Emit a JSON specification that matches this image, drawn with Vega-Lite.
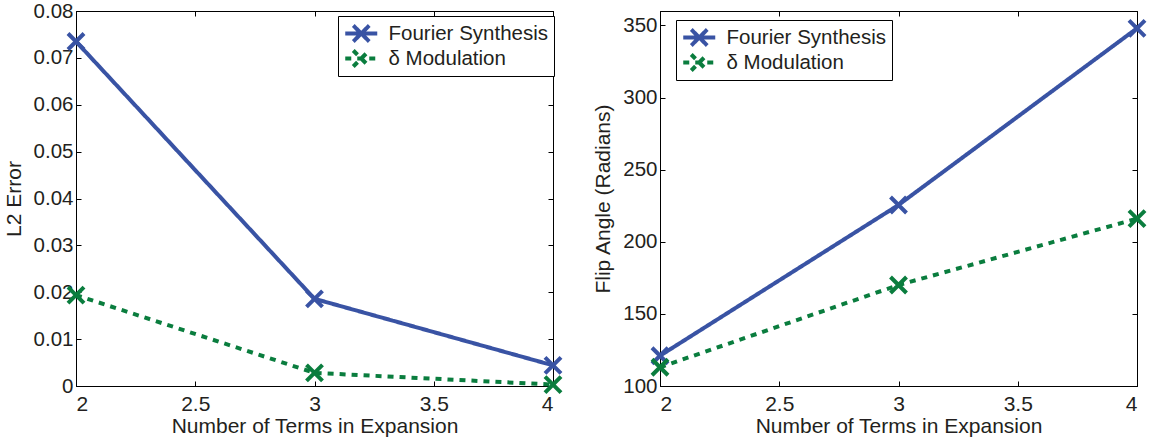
{
  "$schema": "https://vega.github.io/schema/vega-lite/v6.json",
  "padding": {"left": 2, "top": 0, "right": 0, "bottom": 0},
  "background": "white",
  "datasets": {
    "l2": [
      {"terms": 2, "value": 0.0735, "series": "Fourier Synthesis"},
      {"terms": 3, "value": 0.0186, "series": "Fourier Synthesis"},
      {"terms": 4, "value": 0.0044, "series": "Fourier Synthesis"},
      {"terms": 2, "value": 0.0194, "series": "δ Modulation"},
      {"terms": 3, "value": 0.0028, "series": "δ Modulation"},
      {"terms": 4, "value": 0.0003, "series": "δ Modulation"}
    ],
    "flip": [
      {"terms": 2, "value": 121, "series": "Fourier Synthesis"},
      {"terms": 3, "value": 225.5, "series": "Fourier Synthesis"},
      {"terms": 4, "value": 348, "series": "Fourier Synthesis"},
      {"terms": 2, "value": 113, "series": "δ Modulation"},
      {"terms": 3, "value": 170, "series": "δ Modulation"},
      {"terms": 4, "value": 216, "series": "δ Modulation"}
    ]
  },
  "config": {
    "font": "Liberation Sans",
    "view": {"stroke": "#000", "strokeWidth": 1},
    "axis": {
      "labelFont": "Liberation Sans", "labelFontSize": 21, "labelColor": "#231f20",
      "titleFont": "Liberation Sans", "titleFontSize": 21, "titleFontWeight": "normal", "titleColor": "#231f20",
      "domainColor": "#000", "domainWidth": 1, "tickColor": "#000", "tickWidth": 1, "tickSize": -5, "grid": false
    },
    "axisY": {"labelFontSize": 20.5},
    "legend": {
      "orient": "none",
      "title": null,
      "labelFont": "Liberation Sans", "labelFontSize": 20.5, "labelColor": "#231f20", "labelLimit": 0,
      "strokeColor": "#000", "fillColor": "white", "padding": 5, "rowPadding": 0, "clipHeight": 25,
      "symbolType": "M-2,0H2M-1,-1L1,1M-1,1L1,-1",
      "symbolSize": 256, "symbolStrokeWidth": 4, "symbolOffset": 8, "labelOffset": 17
    }
  },
  "spacing": 22,
  "resolve": {"scale": {"color": "independent", "strokeDash": "independent"}},
  "hconcat": [
    {
      "width": 477, "height": 375,
      "data": {"name": "l2"},
      "layer": [
        {
          "mark": {"type": "line", "strokeWidth": 4},
          "encoding": {
            "x": {"field": "terms", "type": "quantitative", "scale": {"domain": [2, 4]},
              "axis": {"values": [2, 2.5, 3, 3.5, 4], "format": "~g", "title": "Number of Terms in Expansion", "labelPadding": 12, "titlePadding": 1}},
            "y": {"field": "value", "type": "quantitative", "scale": {"domain": [0, 0.08]},
              "axis": {"values": [0, 0.01, 0.02, 0.03, 0.04, 0.05, 0.06, 0.07, 0.08], "format": ".2~f", "title": "L2 Error", "labelPadding": 8, "titlePadding": 9}},
            "color": {"field": "series", "type": "nominal",
              "scale": {"domain": ["Fourier Synthesis", "δ Modulation"], "range": ["#3953a4", "#0a7d3e"]},
              "legend": {"legendX": 262, "legendY": 5}},
            "strokeDash": {"field": "series", "type": "nominal",
              "scale": {"domain": ["Fourier Synthesis", "δ Modulation"], "range": [[1, 0], [6, 6]]},
              "legend": {"legendX": 262, "legendY": 5}}
          }
        },
        {
          "mark": {"type": "point", "shape": "M-1,-1L1,1M-1,1L1,-1", "filled": false, "size": 256, "strokeWidth": 4, "opacity": 1},
          "encoding": {
            "x": {"field": "terms", "type": "quantitative", "axis": {"orient": "top", "values": [2, 2.5, 3, 3.5, 4], "labels": false, "title": null}},
            "y": {"field": "value", "type": "quantitative", "axis": {"orient": "right", "values": [0, 0.01, 0.02, 0.03, 0.04, 0.05, 0.06, 0.07, 0.08], "labels": false, "title": null}},
            "color": {"field": "series", "type": "nominal",
              "scale": {"domain": ["Fourier Synthesis", "δ Modulation"], "range": ["#3953a4", "#0a7d3e"]},
              "legend": {"legendX": 262, "legendY": 5}}
          }
        }
      ],
      "resolve": {"axis": {"x": "independent", "y": "independent"}}
    },
    {
      "width": 477, "height": 375,
      "data": {"name": "flip"},
      "layer": [
        {
          "mark": {"type": "line", "strokeWidth": 4},
          "encoding": {
            "x": {"field": "terms", "type": "quantitative", "scale": {"domain": [2, 4]},
              "axis": {"values": [2, 2.5, 3, 3.5, 4], "format": "~g", "title": "Number of Terms in Expansion", "labelPadding": 12, "titlePadding": 1}},
            "y": {"field": "value", "type": "quantitative", "scale": {"domain": [100, 350]},
              "axis": {"values": [100, 150, 200, 250, 300, 350], "title": "Flip Angle (Radians)", "labelPadding": 8, "titlePadding": 9}},
            "color": {"field": "series", "type": "nominal",
              "scale": {"domain": ["Fourier Synthesis", "δ Modulation"], "range": ["#3953a4", "#0a7d3e"]},
              "legend": {"legendX": 16, "legendY": 9}},
            "strokeDash": {"field": "series", "type": "nominal",
              "scale": {"domain": ["Fourier Synthesis", "δ Modulation"], "range": [[1, 0], [6, 6]]},
              "legend": {"legendX": 16, "legendY": 9}}
          }
        },
        {
          "mark": {"type": "point", "shape": "M-1,-1L1,1M-1,1L1,-1", "filled": false, "size": 256, "strokeWidth": 4, "opacity": 1},
          "encoding": {
            "x": {"field": "terms", "type": "quantitative", "axis": {"orient": "top", "values": [2, 2.5, 3, 3.5, 4], "labels": false, "title": null}},
            "y": {"field": "value", "type": "quantitative", "axis": {"orient": "right", "values": [100, 150, 200, 250, 300, 350], "labels": false, "title": null}},
            "color": {"field": "series", "type": "nominal",
              "scale": {"domain": ["Fourier Synthesis", "δ Modulation"], "range": ["#3953a4", "#0a7d3e"]},
              "legend": {"legendX": 16, "legendY": 9}}
          }
        }
      ],
      "resolve": {"axis": {"x": "independent", "y": "independent"}}
    }
  ]
}
